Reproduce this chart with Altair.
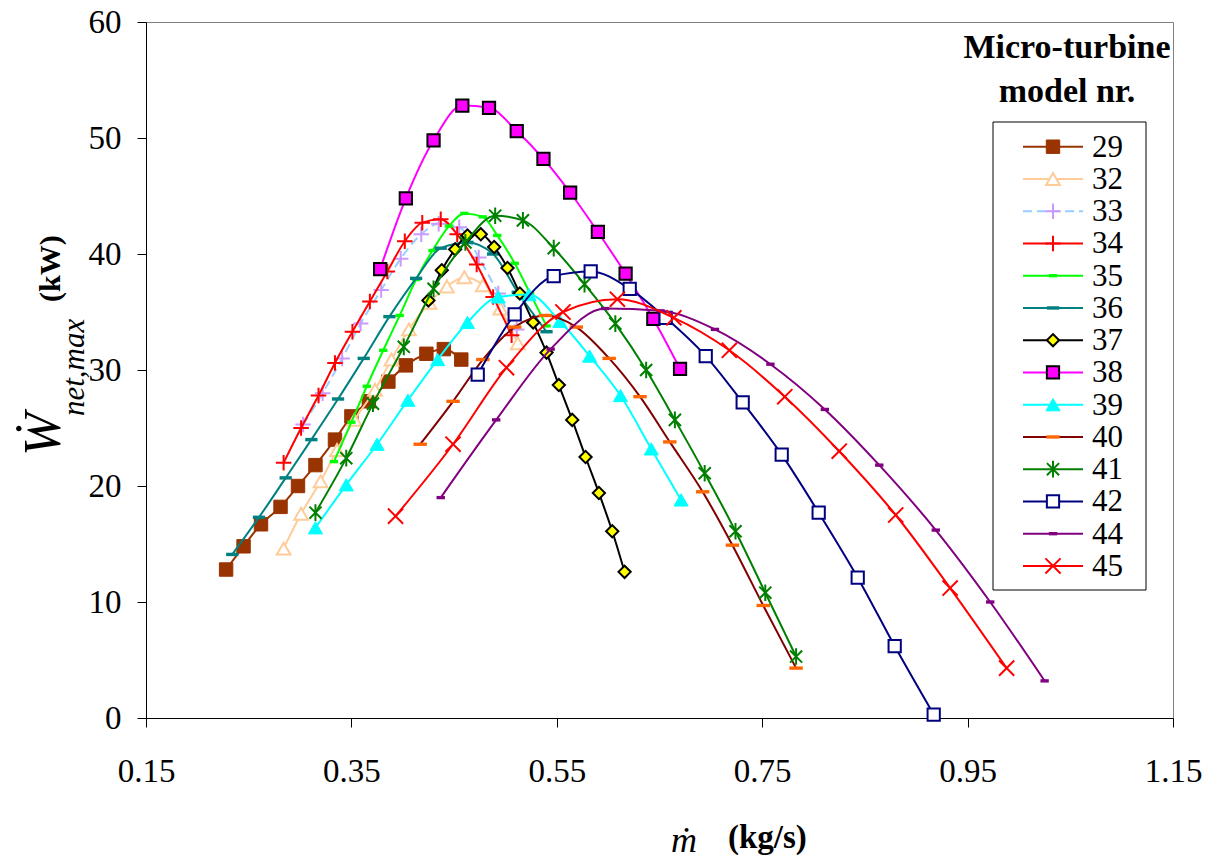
import altair as alt
import pandas as pd

FONT = "'Liberation Serif', 'Times New Roman', serif"

# ---------------- data ----------------
series = ["29", "32", "33", "34", "35", "36", "37", "38", "39", "40", "41", "42", "44", "45"]

m29 = [0.228, 0.245, 0.262, 0.281, 0.298, 0.315, 0.334, 0.350, 0.367, 0.386, 0.403, 0.423, 0.440, 0.457]
w29 = [12.8, 14.8, 16.7, 18.2, 20.0, 21.8, 24.0, 26.0, 27.3, 29.0, 30.4, 31.4, 31.8, 30.9]

m32 = [0.284, 0.301, 0.320, 0.336, 0.353, 0.373, 0.389, 0.406, 0.426, 0.443, 0.460, 0.478, 0.495, 0.512]
w32 = [14.6, 17.6, 20.4, 23.1, 25.7, 28.3, 30.9, 33.5, 35.8, 37.2, 38.0, 37.3, 35.3, 32.3]

m33 = [0.303, 0.322, 0.341, 0.359, 0.379, 0.398, 0.418, 0.435, 0.455, 0.474, 0.493, 0.511]
w33 = [25.3, 28.0, 31.0, 34.0, 36.9, 39.6, 41.7, 42.6, 42.3, 39.7, 36.6, 33.5]

m34 = [0.284, 0.301, 0.318, 0.334, 0.351, 0.368, 0.385, 0.402, 0.419, 0.437, 0.453, 0.472, 0.488, 0.506]
w34 = [22.0, 25.0, 27.8, 30.6, 33.3, 35.9, 38.5, 41.1, 42.7, 43.0, 41.7, 39.1, 36.3, 33.0]

m35 = [0.333, 0.350, 0.365, 0.381, 0.397, 0.413, 0.429, 0.445, 0.460, 0.478, 0.492, 0.509, 0.524, 0.540]
w35 = [22.1, 25.5, 28.6, 31.7, 34.7, 37.8, 40.3, 42.4, 43.5, 43.2, 41.6, 39.2, 36.6, 33.8]

m36 = [0.234, 0.260, 0.286, 0.311, 0.337, 0.362, 0.387, 0.413, 0.437, 0.463, 0.488, 0.512, 0.540]
w36 = [14.1, 17.3, 20.7, 24.0, 27.5, 31.0, 34.6, 37.9, 40.5, 41.0, 40.0, 36.7, 33.3]

m37 = [0.425, 0.438, 0.451, 0.463, 0.476, 0.489, 0.502, 0.514, 0.527, 0.540, 0.552, 0.565, 0.578, 0.591, 0.604, 0.616]
w37 = [36.0, 38.6, 40.4, 41.6, 41.7, 40.6, 38.8, 36.6, 34.1, 31.5, 28.7, 25.7, 22.5, 19.4, 16.1, 12.6]

m38 = [0.378, 0.403, 0.430, 0.458, 0.484, 0.511, 0.537, 0.563, 0.590, 0.617, 0.644, 0.670]
w38 = [38.7, 44.8, 49.8, 52.8, 52.6, 50.6, 48.2, 45.3, 41.9, 38.3, 34.4, 30.1]

m39 = [0.315, 0.345, 0.375, 0.405, 0.434, 0.463, 0.493, 0.523, 0.553, 0.582, 0.612, 0.642, 0.671]
w39 = [16.4, 20.1, 23.6, 27.4, 30.9, 34.1, 36.3, 36.5, 34.2, 31.2, 27.8, 23.2, 18.8]

m40 = [0.417, 0.449, 0.478, 0.509, 0.539, 0.569, 0.601, 0.631, 0.660, 0.692, 0.721, 0.751, 0.783]
w40 = [23.6, 27.3, 30.9, 33.7, 34.7, 33.7, 31.0, 27.7, 23.8, 19.5, 14.9, 9.7, 4.3]

m41 = [0.315, 0.345, 0.371, 0.401, 0.430, 0.461, 0.490, 0.517, 0.547, 0.577, 0.607, 0.637, 0.665, 0.694, 0.724, 0.753, 0.783]
w41 = [17.7, 22.4, 27.1, 32.0, 37.0, 41.0, 43.3, 42.9, 40.5, 37.4, 34.0, 30.0, 25.7, 21.1, 16.1, 10.8, 5.3]

m42 = [0.473, 0.509, 0.547, 0.583, 0.621, 0.656, 0.695, 0.731, 0.769, 0.805, 0.843, 0.879, 0.917]
w42 = [29.6, 34.8, 38.1, 38.5, 37.0, 34.5, 31.2, 27.2, 22.7, 17.7, 12.1, 6.2, 0.3]

m44 = [0.437, 0.491, 0.544, 0.597, 0.651, 0.704, 0.758, 0.811, 0.864, 0.919, 0.972, 1.025]
w44 = [19.0, 25.7, 31.8, 35.3, 35.1, 33.5, 30.5, 26.6, 21.8, 16.2, 10.0, 3.2]

m45 = [0.393, 0.449, 0.501, 0.556, 0.609, 0.664, 0.718, 0.772, 0.825, 0.880, 0.933, 0.988]
w45 = [17.4, 23.6, 30.2, 35.0, 36.1, 34.5, 31.7, 27.7, 23.0, 17.5, 11.2, 4.3]

x_ticks = [0.15, 0.35, 0.55, 0.75, 0.95, 1.15]
y_ticks = [0, 10, 20, 30, 40, 50, 60]

xs = [m29, m32, m33, m34, m35, m36, m37, m38, m39, m40, m41, m42, m44, m45]
ys = [w29, w32, w33, w34, w35, w36, w37, w38, w39, w40, w41, w42, w44, w45]

# ---------------- styles ----------------
PLUS = "M-1,0H1M0,-1V1"
XMARK = "M-1,-1L1,1M-1,1L1,-1"
STAR = "M-0.8,-0.8L0.8,0.8M-0.8,0.8L0.8,-0.8M0,-1.1V1.1"


def dash(h):
    return f"M-1,-{h}H1V{h}H-1Z"


styles = {
    "29": dict(line="#993300", shape="square", fill="#993300", stroke="#993300", size=180, sw=1, dashp=None),
    "32": dict(line="#FFCC99", shape="triangle-up", fill="white", stroke="#FFCC99", size=190, sw=2, dashp=None),
    "33": dict(line="#99CCFF", shape=PLUS, fill=None, stroke="#CC99FF", size=240, sw=2, dashp=[9, 5]),
    "34": dict(line="#FF0000", shape=PLUS, fill=None, stroke="#FF0000", size=240, sw=2, dashp=None),
    "35": dict(line="#00FF00", shape=dash(0.4), fill="#00FF00", stroke=None, size=70, sw=0, dashp=None),
    "36": dict(line="#008080", shape=dash(0.28), fill="#008080", stroke=None, size=150, sw=0, dashp=None),
    "37": dict(line="#000000", shape="diamond", fill="#FFFF00", stroke="#000000", size=150, sw=2, dashp=None),
    "38": dict(line="#FF00FF", shape="square", fill="#FF00FF", stroke="#000000", size=150, sw=2, dashp=None),
    "39": dict(line="#00FFFF", shape="triangle-up", fill="#00FFFF", stroke="#00FFFF", size=200, sw=1, dashp=None),
    "40": dict(line="#800000", shape=dash(0.25), fill="#FF6600", stroke=None, size=180, sw=0, dashp=None),
    "41": dict(line="#008000", shape=STAR, fill=None, stroke="#008000", size=230, sw=2, dashp=None),
    "42": dict(line="#000080", shape="square", fill="white", stroke="#000080", size=150, sw=2, dashp=None),
    "44": dict(line="#800080", shape=dash(0.4), fill="#800080", stroke=None, size=70, sw=0, dashp=None),
    "45": dict(line="#FF0000", shape=XMARK, fill=None, stroke="#FF0000", size=230, sw=2, dashp=None),
}

X = alt.X("m:Q", scale=alt.Scale(domain=[0.15, 1.15], nice=False, zero=False),
          axis=alt.Axis(values=x_ticks, format=".2f", title=None, grid=False,
                        labelFont=FONT, labelFontSize=33, labelColor="black",
                        tickSize=9, tickColor="black", domainColor="black",
                        labelPadding=28, labelFlush=False))
Y = alt.Y("w:Q", scale=alt.Scale(domain=[0, 60], nice=False),
          axis=alt.Axis(values=y_ticks, title=None, grid=False,
                        labelFont=FONT, labelFontSize=33, labelColor="black",
                        tickSize=9, tickColor="black", domainColor="black",
                        labelPadding=16))


def point_kwargs(st):
    kw = dict(shape=st["shape"], size=st["size"], opacity=1)
    if st["fill"] is not None:
        kw["filled"] = True
        kw["fill"] = st["fill"]
        kw["fillOpacity"] = 1
    else:
        kw["filled"] = False
        kw["fill"] = "transparent"
    if st["stroke"] is not None:
        kw["stroke"] = st["stroke"]
        kw["strokeWidth"] = st["sw"]
    else:
        kw["strokeWidth"] = 0
    return kw


layers = []
for name, mx, wy in zip(series, xs, ys):
    st = styles[name]
    df = pd.DataFrame({"m": mx, "w": wy})
    lk = dict(color=st["line"], strokeWidth=2, interpolate="monotone")
    if st["dashp"]:
        lk["strokeDash"] = st["dashp"]
    layers.append(alt.Chart(df).mark_line(**lk).encode(x=X, y=Y))
    layers.append(alt.Chart(df).mark_point(**point_kwargs(st)).encode(x=X, y=Y))

one = pd.DataFrame({"k": [0]})

# legend box
layers.append(alt.Chart(one).mark_rect(fill="white", stroke="black", strokeWidth=1).encode(
    x=alt.value(847), x2=alt.value(1000), y=alt.value(100), y2=alt.value(568)))

for i, name in enumerate(series):
    st = styles[name]
    yy = 124.7 + 32.25 * i
    rk = dict(color=st["line"], strokeWidth=2)
    if st["dashp"]:
        rk["strokeDash"] = st["dashp"]
    layers.append(alt.Chart(one).mark_rule(**rk).encode(
        x=alt.value(877), x2=alt.value(937), y=alt.value(yy)))
    layers.append(alt.Chart(one).mark_point(**point_kwargs(st)).encode(
        x=alt.value(907), y=alt.value(yy)))
    layers.append(alt.Chart(one).mark_text(align="left", baseline="middle", font=FONT,
                                           fontSize=31, color="black").encode(
        x=alt.value(946), y=alt.value(yy + 1), text=alt.value(name)))

# legend title
for txt, ty in [("Micro-turbine", 26), ("model nr.", 70)]:
    layers.append(alt.Chart(one).mark_text(align="center", baseline="middle", font=FONT, fontSize=34,
                                           fontWeight="bold", color="black").encode(
        x=alt.value(921), y=alt.value(ty), text=alt.value(txt)))

# y axis title (rotated)
layers.append(alt.Chart(one).mark_text(align="left", baseline="alphabetic", angle=270, font=FONT,
                                       fontSize=52, fontStyle="italic", color="black").encode(
    x=alt.value(-86), y=alt.value(434), text=alt.value("\u1E86")))
layers.append(alt.Chart(one).mark_text(align="left", baseline="alphabetic", angle=270, font=FONT,
                                       fontSize=31, fontStyle="italic", color="black").encode(
    x=alt.value(-62), y=alt.value(394), text=alt.value("net,max")))
layers.append(alt.Chart(one).mark_text(align="left", baseline="alphabetic", angle=270, font=FONT,
                                       fontSize=30, fontWeight="bold", color="black").encode(
    x=alt.value(-86), y=alt.value(280), text=alt.value("(kW)")))

# x axis title
layers.append(alt.Chart(one).mark_text(align="left", baseline="alphabetic", font=FONT,
                                       fontSize=36, fontStyle="italic", color="black").encode(
    x=alt.value(525), y=alt.value(830), text=alt.value("\u1E41")))
layers.append(alt.Chart(one).mark_text(align="left", baseline="alphabetic", font=FONT,
                                       fontSize=33, fontWeight="bold", color="black").encode(
    x=alt.value(582), y=alt.value(826), text=alt.value("(kg/s)")))

chart = alt.layer(*layers).properties(
    width=1027, height=696,
    padding={"left": 146, "top": 22, "right": 45, "bottom": 144},
    autosize=alt.AutoSizeParams(type="none"),
    background="white",
).configure_view(stroke="#808080", strokeWidth=1)

chart.save("out.html", embed_options={"renderer": "svg", "actions": False})
